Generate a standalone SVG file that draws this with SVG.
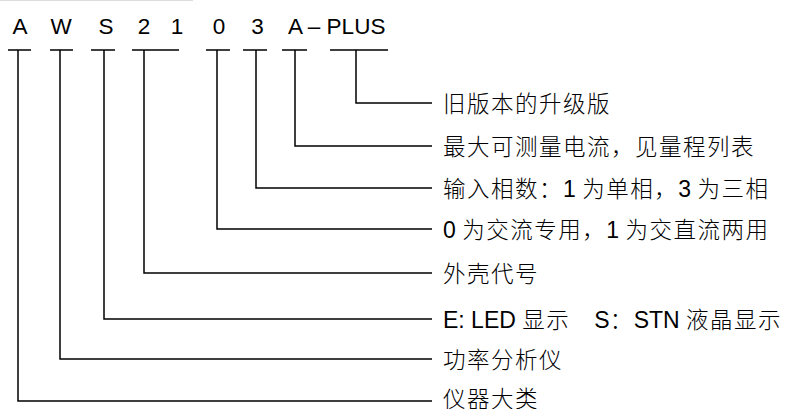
<svg xmlns="http://www.w3.org/2000/svg" width="788" height="409" viewBox="0 0 788 409">
<style>
text { font-family: 'Liberation Sans', 'Noto Sans CJK SC', sans-serif; fill: #000; }
.code { font-size: 22.5px; text-anchor: middle; }
.desc { font-size: 23px; }
.c { font-family: 'Noto Sans CJK SC', sans-serif; font-size: 22.5px; font-weight: 300; letter-spacing: 1.5px; }
.ln { fill: none; stroke: #000; stroke-width: 1.5; }
</style>
<rect width="788" height="409" fill="#fff"/>
<line x1="0" y1="0.5" x2="193" y2="0.5" stroke="#dcdcdc" stroke-width="1"/>
<g id="code">
  <text class="code" x="20" y="33.5">A</text>
  <text class="code" x="61" y="33.5">W</text>
  <text class="code" x="106" y="33.5">S</text>
  <text class="code" x="144" y="33.5">2</text>
  <text class="code" x="177" y="33.5">1</text>
  <text class="code" x="219" y="33.5">0</text>
  <text class="code" x="257.5" y="33.5">3</text>
  <text class="code" x="295.5" y="33.5">A</text>
  <text class="code" x="314" y="33.5">–</text>
  <text class="code" x="356" y="33.5">PLUS</text>
</g>
<g id="connectors">
  <path class="ln" d="M8 50H31M50 50H73M91 50H115M132 50H179M206 50H230M243 50H267M282 50H307M330 50H388"/>
  <path class="ln" d="M356 50V103H432"/>
  <path class="ln" d="M295 50V146H432"/>
  <path class="ln" d="M256 50V188H432"/>
  <path class="ln" d="M217 50V229H432"/>
  <path class="ln" d="M144 50V273H432"/>
  <path class="ln" d="M104 50V319H432"/>
  <path class="ln" d="M60 50V359H432"/>
  <path class="ln" d="M18 50V401H432"/>
</g>
<g id="d-plus"><text class="desc" x="443" y="111.5"><tspan class="c">旧版本的升级版</tspan></text></g>
<g id="d-current"><text class="desc" x="443" y="154.5"><tspan class="c">最大可测量电流，见量程列表</tspan></text></g>
<g id="d-phase"><text class="desc" x="443" y="196.5"><tspan class="c">输入相数：</tspan>1 <tspan class="c">为单相，</tspan>3 <tspan class="c">为三相</tspan></text></g>
<g id="d-acdc"><text class="desc" x="443" y="237.5">0 <tspan class="c">为交流专用，</tspan>1 <tspan class="c">为交直流两用</tspan></text></g>
<g id="d-case"><text class="desc" x="443" y="281.5"><tspan class="c">外壳代号</tspan></text></g>
<g id="d-display"><text class="desc" x="443" y="327.5">E: LED <tspan class="c">显示　</tspan>S<tspan class="c">：</tspan>STN <tspan class="c">液晶显示</tspan></text></g>
<g id="d-type"><text class="desc" x="443" y="367.5"><tspan class="c">功率分析仪</tspan></text></g>
<g id="d-class"><text class="desc" x="443" y="406.5"><tspan class="c">仪器大类</tspan></text></g>
</svg>
